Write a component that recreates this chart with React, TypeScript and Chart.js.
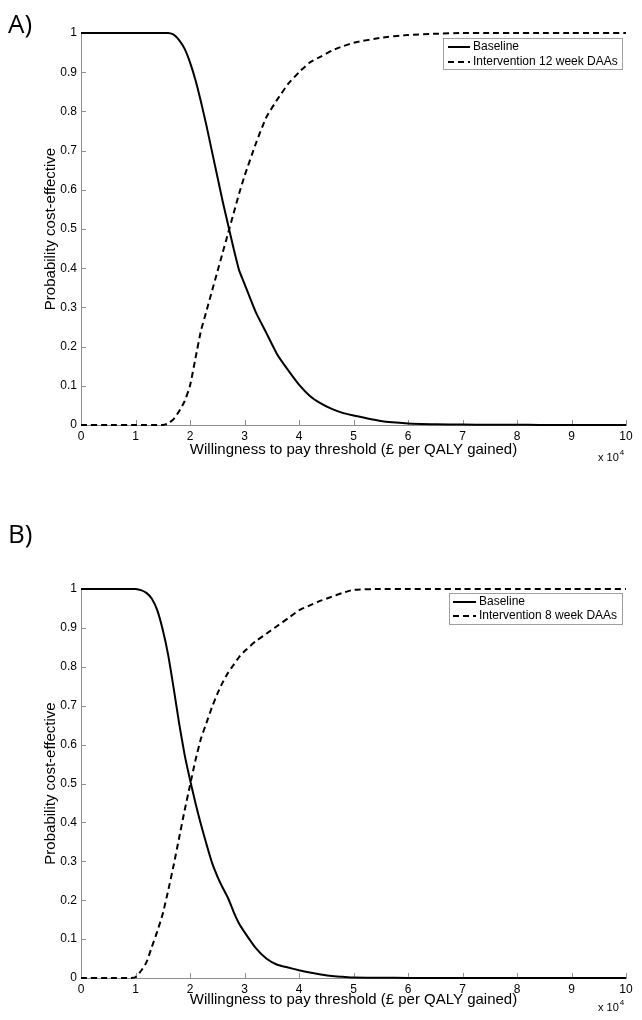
import React, { useEffect, useRef } from "react";
import { Chart, registerables } from "chart.js";

Chart.register(...registerables);

// ---------- data ----------
const X_TICKS = [0, 10000, 20000, 30000, 40000, 50000, 60000, 70000, 80000, 90000, 100000];
const Y_TICKS = [0, 0.1, 0.2, 0.3, 0.4, 0.5, 0.6, 0.7, 0.8, 0.9, 1];
const X_TITLE = "Willingness to pay threshold (£ per QALY gained)";
const Y_TITLE = "Probability cost-effective";
const X_MULTIPLIER_BASE = "x 10";
const X_MULTIPLIER_EXP = "4";

const wtpA = [0, 5000, 10000, 15000, 16000, 17000, 18000, 19000, 20000, 21000, 22000, 23000, 24000, 25000, 26000, 27000, 28000, 29000, 30000, 32000, 34000, 36000, 38000, 40000, 42000, 44000, 46000, 48000, 50000, 55000, 60000, 65000, 70000, 75000, 80000, 84000, 90000, 100000];
const baselineA = [1, 1, 1, 1, 1, 0.996, 0.982, 0.96, 0.925, 0.88, 0.825, 0.765, 0.7, 0.635, 0.57, 0.51, 0.45, 0.395, 0.36, 0.29, 0.235, 0.18, 0.14, 0.103, 0.074, 0.055, 0.041, 0.031, 0.024, 0.01, 0.004, 0.002, 0.001, 0.0008, 0.0005, 0.0002, 0, 0];
const interventionA = [0, 0, 0, 0, 0.004, 0.015, 0.035, 0.06, 0.1, 0.17, 0.24, 0.29, 0.34, 0.39, 0.44, 0.49, 0.54, 0.59, 0.635, 0.715, 0.785, 0.83, 0.87, 0.9, 0.925, 0.94, 0.955, 0.966, 0.975, 0.988, 0.995, 0.998, 1, 1, 1, 1, 1, 1];
const legendA = ["Baseline", "Intervention 12 week DAAs"];

const wtpB = [0, 5000, 9000, 10000, 11000, 12000, 13000, 14000, 15000, 16000, 17000, 18000, 19000, 20000, 21000, 22000, 23000, 24000, 25000, 26000, 27000, 28000, 29000, 30000, 32000, 34000, 36000, 38000, 40000, 42000, 44000, 46000, 48000, 50000, 55000, 60000, 65000, 70000, 80000, 90000, 100000];
const baselineB = [1, 1, 1, 1, 0.997, 0.99, 0.975, 0.945, 0.895, 0.83, 0.745, 0.655, 0.575, 0.51, 0.45, 0.395, 0.345, 0.298, 0.262, 0.232, 0.205, 0.17, 0.14, 0.118, 0.078, 0.05, 0.034, 0.027, 0.02, 0.014, 0.009, 0.005, 0.003, 0.001, 0.0005, 0.0003, 0.0001, 0, 0, 0, 0];
const interventionB = [0, 0, 0, 0.002, 0.018, 0.04, 0.08, 0.12, 0.165, 0.225, 0.29, 0.36, 0.43, 0.495, 0.56, 0.615, 0.655, 0.695, 0.73, 0.76, 0.785, 0.805, 0.825, 0.84, 0.865, 0.885, 0.905, 0.925, 0.945, 0.958, 0.97, 0.98, 0.99, 0.998, 1, 1, 1, 1, 1, 1, 1];
const legendB = ["Baseline", "Intervention 8 week DAAs"];

// ---------- styles ----------
const FONT = '"Liberation Sans", Arial, Helvetica, sans-serif';
const AXIS_COLOR = "#8f8f8f";
const LINE_COLOR = "#000000";
const DASH = [6, 4];

type PanelCfg = {
  letter: string;
  canvasTop: number;
  canvasHeight: number;
  areaTop: number;
  areaBottom: number;
  xTitleCenter: number;
  multY: number;
  legend: { x: number; y: number; w: number; h: number; rows: number[]; sx0: number; sx1: number; tx: number };
  wtp: number[];
  base: number[];
  inter: number[];
  labels: string[];
};

const W = 642;
const RIGHT_PAD = 16;
const Y_AXIS_W = 81;

function Panel({ cfg }: { cfg: PanelCfg }) {
  const ref = useRef<HTMLCanvasElement | null>(null);

  useEffect(() => {
    const canvas = ref.current;
    if (!canvas) return;
    const xH = cfg.canvasHeight - cfg.areaBottom;
    const xTitleOffset = cfg.canvasHeight - cfg.xTitleCenter; // from scale bottom
    const xTitlePad = xTitleOffset - (15 * 1.2) / 2;

    const decor = {
      id: "decor",
      beforeDatasetsDraw(chart: any) {
        const ctx = chart.ctx;
        const xs = chart.scales.x;
        const ys = chart.scales.y;
        ctx.save();
        ctx.strokeStyle = AXIS_COLOR;
        ctx.lineWidth = 1;
        ctx.beginPath();
        xs.ticks.forEach((t: any) => {
          const px = Math.round(xs.getPixelForValue(t.value)) + 0.5;
          ctx.moveTo(px, xs.top);
          ctx.lineTo(px, xs.top - 5);
        });
        ys.ticks.forEach((t: any) => {
          const py = Math.round(ys.getPixelForValue(t.value)) + 0.5;
          ctx.moveTo(ys.right, py);
          ctx.lineTo(ys.right + 5, py);
        });
        ctx.stroke();
        ctx.restore();
      },
      afterDraw(chart: any) {
        const ctx = chart.ctx;
        ctx.save();
        // panel letter
        ctx.fillStyle = "#000";
        ctx.font = '26px "Open Sans", "Noto Sans", sans-serif';
        ctx.textAlign = "left";
        ctx.textBaseline = "alphabetic";
        ctx.fillText(cfg.letter, 8, 33);

        // legend
        const L = cfg.legend;
        ctx.fillStyle = "#ffffff";
        ctx.fillRect(L.x, L.y, L.w, L.h);
        ctx.strokeStyle = "#a0a0a0";
        ctx.lineWidth = 1;
        ctx.strokeRect(L.x + 0.5, L.y + 0.5, L.w, L.h);
        chart.data.datasets.forEach((ds: any, i: number) => {
          const y = L.rows[i];
          ctx.strokeStyle = ds.borderColor;
          ctx.lineWidth = 2;
          ctx.setLineDash(ds.borderDash || []);
          ctx.beginPath();
          ctx.moveTo(L.sx0, y);
          ctx.lineTo(L.sx1, y);
          ctx.stroke();
          ctx.setLineDash([]);
          ctx.fillStyle = "#000";
          ctx.font = `12px ${FONT}`;
          ctx.textBaseline = "middle";
          ctx.fillText(ds.label, L.tx, y);
        });

        // x 10^4 multiplier
        ctx.fillStyle = "#000";
        ctx.font = `11px ${FONT}`;
        ctx.textBaseline = "middle";
        ctx.fillText(X_MULTIPLIER_BASE, 598, cfg.multY);
        const w = ctx.measureText(X_MULTIPLIER_BASE).width;
        ctx.font = `8px ${FONT}`;
        ctx.fillText(X_MULTIPLIER_EXP, 598 + w + 1, cfg.multY - 5);
        ctx.restore();
      },
    };

    const chart = new Chart(canvas, {
      type: "line",
      data: {
        datasets: [
          {
            label: cfg.labels[0],
            data: cfg.wtp.map((x, i) => ({ x, y: cfg.base[i] })),
            borderColor: LINE_COLOR,
            borderWidth: 2,
            pointRadius: 0,
            tension: 0.15,
            clip: false as any,
          },
          {
            label: cfg.labels[1],
            data: cfg.wtp.map((x, i) => ({ x, y: cfg.inter[i] })),
            borderColor: LINE_COLOR,
            borderWidth: 2,
            borderDash: DASH,
            pointRadius: 0,
            tension: 0.15,
            clip: false as any,
          },
        ],
      },
      options: {
        animation: false,
        responsive: false,
        devicePixelRatio: 1,
        events: [],
        layout: { padding: { top: cfg.areaTop, right: RIGHT_PAD, left: 0, bottom: 0 } },
        plugins: {
          legend: { display: false },
          tooltip: { enabled: false },
          title: { display: false },
        },
        scales: {
          x: {
            type: "linear",
            min: 0,
            max: 100000,
            afterBuildTicks: (s: any) => {
              s.ticks = X_TICKS.map((v) => ({ value: v }));
            },
            afterFit: (s: any) => {
              s.height = xH;
            },
            ticks: {
              autoSkip: false,
              maxRotation: 0,
              padding: 4,
              color: "#000",
              font: { family: FONT, size: 12 },
              callback: (v: any) => String(Number(v) / 10000),
            },
            grid: { display: true, drawOnChartArea: false, drawTicks: false },
            border: { display: true, color: AXIS_COLOR, width: 1 },
            title: {
              display: true,
              text: X_TITLE,
              color: "#000",
              font: { family: FONT, size: 15 },
              padding: { top: 0, bottom: xTitlePad },
            },
          },
          y: {
            type: "linear",
            min: 0,
            max: 1,
            afterBuildTicks: (s: any) => {
              s.ticks = Y_TICKS.map((v) => ({ value: v }));
            },
            afterFit: (s: any) => {
              s.width = Y_AXIS_W;
            },
            ticks: {
              autoSkip: false,
              padding: 4,
              color: "#000",
              font: { family: FONT, size: 12 },
              callback: (v: any) => {
                const n = Number(v);
                if (Math.abs(n) < 1e-9) return "0";
                if (Math.abs(n - 1) < 1e-9) return "1";
                return n.toFixed(1);
              },
            },
            grid: { display: true, drawOnChartArea: false, drawTicks: false },
            border: { display: true, color: AXIS_COLOR, width: 1 },
            title: {
              display: true,
              text: Y_TITLE,
              color: "#000",
              font: { family: FONT, size: 15 },
              padding: { top: 51 - 9, bottom: 0 },
            },
          },
        },
      },
      plugins: [decor],
    } as any);

    return () => chart.destroy();
  }, [cfg]);

  return (
    <canvas
      ref={ref}
      width={W}
      height={cfg.canvasHeight}
      style={{ position: "absolute", left: 0, top: cfg.canvasTop, width: W, height: cfg.canvasHeight, display: "block" }}
    />
  );
}

const panelA: PanelCfg = {
  letter: "A)",
  canvasTop: 0,
  canvasHeight: 510,
  areaTop: 33,
  areaBottom: 425,
  xTitleCenter: 450,
  multY: 458,
  legend: { x: 443, y: 38, w: 179, h: 31, rows: [47, 62], sx0: 448, sx1: 470, tx: 473 },
  wtp: wtpA,
  base: baselineA,
  inter: interventionA,
  labels: legendA,
};

const panelB: PanelCfg = {
  letter: "B)",
  canvasTop: 510,
  canvasHeight: 510,
  areaTop: 79,
  areaBottom: 468,
  xTitleCenter: 490,
  multY: 498,
  legend: { x: 449, y: 83, w: 173, h: 31, rows: [92, 106], sx0: 453, sx1: 476, tx: 479 },
  wtp: wtpB,
  base: baselineB,
  inter: interventionB,
  labels: legendB,
};

export default function App() {
  return (
    <div style={{ position: "absolute", left: 0, top: 0, width: W, height: 1020, background: "#fff", overflow: "hidden" }}>
      <Panel cfg={panelA} />
      <Panel cfg={panelB} />
    </div>
  );
}
